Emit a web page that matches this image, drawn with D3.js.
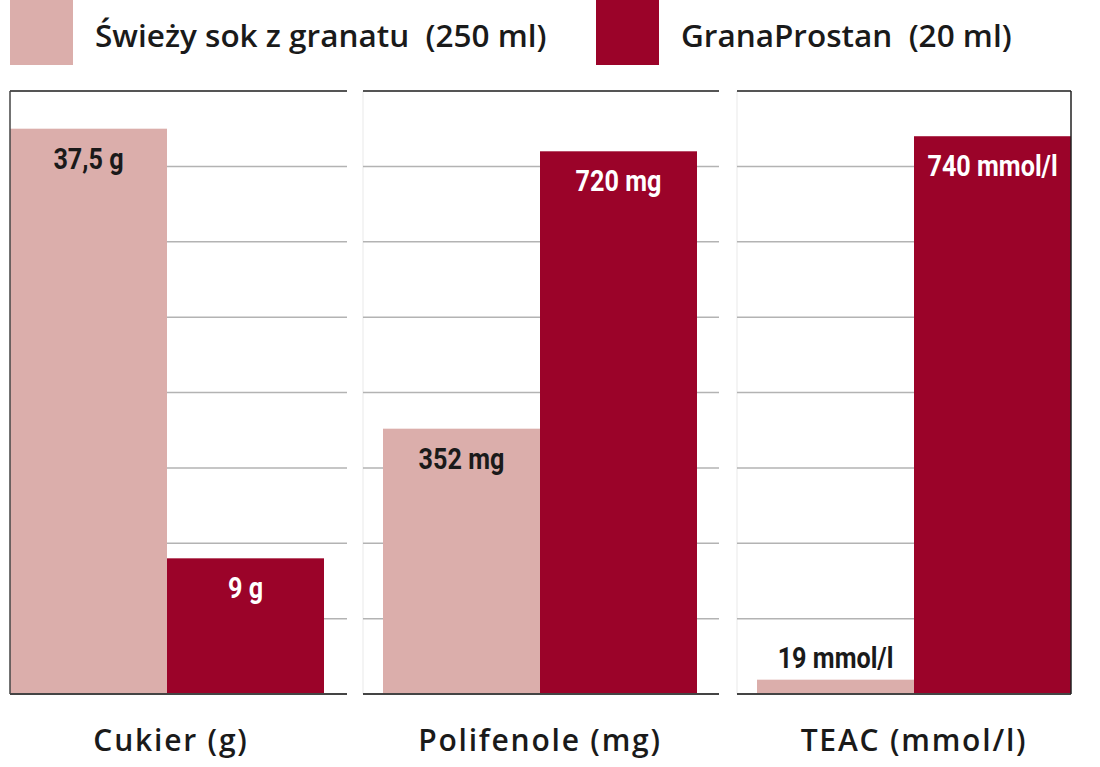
<!DOCTYPE html>
<html>
<head>
<meta charset="utf-8">
<script src="https://cdn.jsdelivr.net/npm/d3@7/dist/d3.min.js"></script>
<style>
  html, body { margin: 0; padding: 0; background: #fff; }
  svg { display: block; }
</style>
</head>
<body>
<svg id="chart" width="1100" height="767"></svg>
<script>
// ---- data ----
const categories = ["Cukier (g)", "Polifenole (mg)", "TEAC (mmol/l)"];
const series = ["Świeży sok z granatu  (250 ml)", "GranaProstan  (20 ml)"];
const juiceValues = [37.5, 352, 19];
const granaValues = [9, 720, 740];
const juiceLabels = ["37,5 g", "352 mg", "19 mmol/l"];
const granaLabels = ["9 g", "720 mg", "740 mmol/l"];
const axisMax = [40, 800, 800];

// ---- layout / style ----
const colors = ["#dbaeab", "#9b0329"];
const plotTop = 91, plotBottom = 694;
const panels = [
  { x0: 10, x1: 347, barStart: 10 },
  { x0: 363, x1: 719, barStart: 383 },
  { x0: 737, x1: 1071, barStart: 757 }
];
const barPairWidth = 314;
const condensed = "Roboto, 'Liberation Sans', sans-serif";
const condenseFactor = 0.84;
const sansFont = "'Open Sans', 'Noto Sans', sans-serif";

const svg = d3.select("#chart");

// legend
const legendX = d3.scaleOrdinal().domain(series).range([10, 596]);
const legend = svg.append("g");
series.forEach((s, i) => {
  legend.append("rect").attr("x", legendX(s)).attr("y", 0)
    .attr("width", 63).attr("height", 65).attr("fill", colors[i]);
  legend.append("text").attr("x", legendX(s) + 85).attr("y", 47)
    .attr("font-family", sansFont).attr("font-weight", 600)
    .attr("font-size", 31.5).attr("fill", "#1a1a1a")
    .style("white-space", "pre").attr("xml:space", "preserve")
    .text(s);
});

categories.forEach((cat, ci) => {
  const p = panels[ci];
  const g = svg.append("g");
  const y = d3.scaleLinear().domain([0, axisMax[ci]]).range([plotBottom, plotTop]);
  const x = d3.scaleBand().domain(series).range([p.barStart, p.barStart + barPairWidth]);

  // faint panel left edge
  if (ci > 0) {
    g.append("line").attr("x1", p.x0).attr("x2", p.x0)
      .attr("y1", plotTop).attr("y2", plotBottom)
      .attr("stroke", "#f0f0f0").attr("stroke-width", 1.5);
  }

  // gridlines
  const ticks = y.ticks(8).filter(t => t > 0 && t < axisMax[ci]);
  g.selectAll("line.grid").data(ticks).join("line").attr("class", "grid")
    .attr("x1", p.x0).attr("x2", p.x1)
    .attr("y1", d => y(d)).attr("y2", d => y(d))
    .attr("stroke", "#b3b3b3").attr("stroke-width", 1.5);

  const vals = [juiceValues[ci], granaValues[ci]];
  const labs = [juiceLabels[ci], granaLabels[ci]];

  series.forEach((s, si) => {
    g.append("rect")
      .attr("x", x(s)).attr("width", x.bandwidth())
      .attr("y", y(vals[si])).attr("height", plotBottom - y(vals[si]))
      .attr("fill", colors[si]);
  });

  series.forEach((s, si) => {
    const top = y(vals[si]);
    const inside = plotBottom - top > 60;
    const cx = x(s) + x.bandwidth() / 2;
    const cy = inside ? top + 40 : top - 12;
    g.append("text")
      .attr("transform", `translate(${cx},${cy}) scale(${condenseFactor},1)`)
      .attr("text-anchor", "middle")
      .attr("font-family", condensed).attr("font-weight", 700)
      .attr("font-size", 30)
      .attr("fill", si === 1 && inside ? "#ffffff" : "#1a1a1a")
      .text(labs[si]);
  });

  // top border
  g.append("line").attr("x1", p.x0).attr("x2", p.x1)
    .attr("y1", plotTop).attr("y2", plotTop)
    .attr("stroke", "#555").attr("stroke-width", 2);
  // bottom axis line
  g.append("line").attr("x1", p.x0).attr("x2", p.x1)
    .attr("y1", plotBottom).attr("y2", plotBottom)
    .attr("stroke", "#444").attr("stroke-width", 2);
  if (ci === 0) {
    g.append("line").attr("x1", p.x0).attr("x2", p.x0)
      .attr("y1", plotTop).attr("y2", plotBottom)
      .attr("stroke", "#444").attr("stroke-width", 1.5);
  }
  if (ci === categories.length - 1) {
    g.append("line").attr("x1", p.x1).attr("x2", p.x1)
      .attr("y1", plotTop).attr("y2", plotBottom)
      .attr("stroke", "#222").attr("stroke-width", 1.5);
  }

  // category label
  g.append("text")
    .attr("x", p.barStart + barPairWidth / 2 + (ci === 0 ? 4 : 0))
    .attr("y", 751)
    .attr("text-anchor", "middle")
    .attr("font-family", sansFont).attr("font-weight", 600)
    .attr("font-size", 30).attr("letter-spacing", 1.8)
    .attr("fill", "#1a1a1a")
    .text(cat);
});
</script>
</body>
</html>
